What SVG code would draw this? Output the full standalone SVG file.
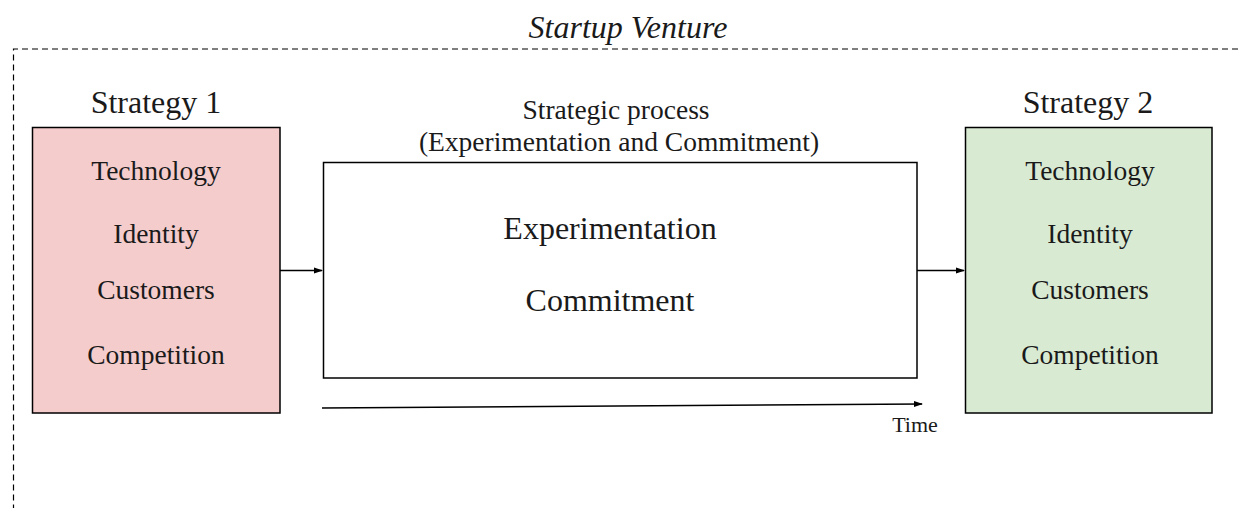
<svg xmlns="http://www.w3.org/2000/svg" width="1238" height="508" viewBox="0 0 1238 508">
<style>
text{font-family:"Liberation Serif","Times New Roman",serif;fill:#1a1a1a;text-anchor:middle}
.box{stroke:#000;stroke-width:1.5}
.item{font-size:27.5px}
.title{font-size:32px}
.sub{font-size:27.5px}
.conn{stroke:#000;stroke-width:1.5;fill:none}
</style>
<defs>
<marker id="ah" markerWidth="9" markerHeight="8" refX="8" refY="4" orient="auto" markerUnits="userSpaceOnUse">
<path d="M0,1 L9,4 L0,7 Z" fill="#000"/>
</marker>
</defs>
<rect width="1238" height="508" fill="#fff"/>
<g id="venture">
<path d="M1238,49 H13.5 V508" fill="none" stroke="#000" stroke-width="1.2" stroke-dasharray="6,4"/>
<text x="628" y="38" font-size="32" font-style="italic">Startup Venture</text>
</g>
<g id="strategy1">
<text class="title" x="156" y="113">Strategy 1</text>
<rect class="box" x="32.5" y="127.5" width="247.5" height="285.5" fill="#f4cccc"/>
<text class="item" x="156" y="180">Technology</text>
<text class="item" x="156" y="243">Identity</text>
<text class="item" x="156" y="299">Customers</text>
<text class="item" x="156" y="364">Competition</text>
</g>
<g id="process">
<text class="sub" x="616" y="119">Strategic process</text>
<text class="sub" x="619" y="151">(Experimentation and Commitment)</text>
<rect class="box" x="323.5" y="162.5" width="593.5" height="215.5" fill="#fff"/>
<text class="title" x="610" y="239">Experimentation</text>
<text class="title" x="610" y="311">Commitment</text>
</g>
<g id="strategy2">
<text class="title" x="1088" y="113">Strategy 2</text>
<rect class="box" x="965.5" y="127.5" width="246.5" height="285.5" fill="#d9ead3"/>
<text class="item" x="1090" y="180">Technology</text>
<text class="item" x="1090" y="243">Identity</text>
<text class="item" x="1090" y="299">Customers</text>
<text class="item" x="1090" y="364">Competition</text>
</g>
<g id="time">
<text x="915" y="432" font-size="22">Time</text>
</g>
<g id="connectors">
<line class="conn" x1="280" y1="270.5" x2="322" y2="270.5" marker-end="url(#ah)"/>
<line class="conn" x1="917" y1="270.5" x2="964" y2="270.5" marker-end="url(#ah)"/>
<line class="conn" x1="322" y1="408" x2="922" y2="404" marker-end="url(#ah)"/>
</g>
</svg>
